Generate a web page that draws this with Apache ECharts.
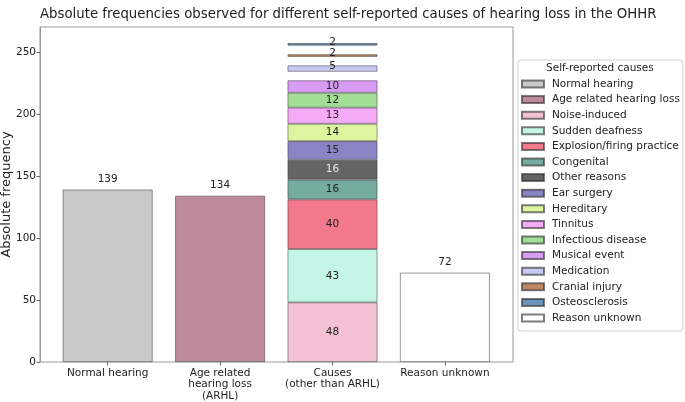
<!DOCTYPE html>
<html>
<head>
<meta charset="utf-8">
<script src="https://cdn.jsdelivr.net/npm/echarts@6/dist/echarts.min.js"></script>
<style>html,body{margin:0;padding:0;background:#fff}#c{width:685px;height:402px}</style>
</head>
<body>
<div id="c"></div>
<script>
const categories = ['Normal hearing', 'Age related\nhearing loss\n(ARHL)', 'Causes\n(other than ARHL)', 'Reason unknown'];
const normalHearing = 139;
const arhl = 134;
const reasonUnknown = 72;
const causeNames = ['Noise-induced', 'Sudden deafness', 'Explosion/firing practice', 'Congenital', 'Other reasons', 'Ear surgery', 'Hereditary', 'Tinnitus', 'Infectious disease', 'Musical event', 'Medication', 'Cranial injury', 'Osteosclerosis'];
const causeValues = [48, 43, 40, 16, 16, 15, 14, 13, 12, 10, 5, 2, 2];
const causeGapsBefore = [0, 0, 0, 0, 0, 0, 0, 0, 0, 0, 7, 7, 7];
const yTicks = [0, 50, 100, 150, 200, 250];

const colors = {
  'Normal hearing': '#c9c9c9',
  'Age related hearing loss': '#bd8a9c',
  'Noise-induced': '#f4c2d4',
  'Sudden deafness': '#c4f5e6',
  'Explosion/firing practice': '#f27a8c',
  'Congenital': '#76aba0',
  'Other reasons': '#656565',
  'Ear surgery': '#8a84c4',
  'Hereditary': '#dcf59e',
  'Tinnitus': '#f5abf5',
  'Infectious disease': '#a3de97',
  'Musical event': '#d99cf5',
  'Medication': '#c7caf2',
  'Cranial injury': '#c08965',
  'Osteosclerosis': '#6b94b9',
  'Reason unknown': '#ffffff'
};

const FONT = 'DejaVu Sans';
function vals(idx, v) {
  const d = [];
  for (let i = 0; i < categories.length; i++) d.push(i === idx ? v : '-');
  return d;
}
function barSeries(name, idx, v, labelPos) {
  return {
    name: name,
    type: 'bar',
    stack: 'all',
    xAxisIndex: 1, yAxisIndex: 1,
    barWidth: '80%',
    data: vals(idx, v),
    itemStyle: { color: colors[name], borderColor: 'rgba(40,40,40,0.6)', borderWidth: 0.8 },
    label: {
      show: true, position: labelPos, distance: 5,
      fontFamily: FONT, fontSize: 10.5, color: '#222'
    }
  };
}

const series = [];
series.push(barSeries('Normal hearing', 0, normalHearing, 'top'));
series.push(barSeries('Age related hearing loss', 1, arhl, 'top'));
causeNames.forEach((n, i) => {
  if (causeGapsBefore[i] > 0) {
    series.push({
      name: 'gap' + i, type: 'bar', stack: 'all', xAxisIndex: 1, yAxisIndex: 1, barWidth: '80%',
      data: vals(2, causeGapsBefore[i]),
      itemStyle: { color: 'rgba(0,0,0,0)', borderWidth: 0 },
      label: { show: false }, silent: true
    });
  }
  const s = barSeries(n, 2, causeValues[i], 'inside');
  if (n === 'Other reasons') s.label.color = '#e8e8e8';
  if (causeValues[i] <= 5) s.label.offset = [0, -2];
  series.push(s);
});
series.push(barSeries('Reason unknown', 3, reasonUnknown, 'top'));

const chart = echarts.init(document.getElementById('c'));
chart.setOption({
  animation: false,
  backgroundColor: '#fff',
  title: {
    text: 'Absolute frequencies observed for different self-reported causes of hearing loss in the OHHR',
    left: 35, top: 3,
    textStyle: { fontFamily: FONT, fontSize: 13.3, fontWeight: 'normal', color: '#222' }
  },
  grid: [
    { left: 40, right: 172, top: 27, bottom: 40, outerBoundsMode: 'none', containLabel: false, show: true, borderColor: '#999', borderWidth: 1, backgroundColor: 'transparent' },
    { left: 51.5, right: 183.9, top: 27, bottom: 40, outerBoundsMode: 'none', containLabel: false }
  ],
  xAxis: [
    { type: 'value', gridIndex: 0, min: 0, max: 1, show: false },
    {
      type: 'category', gridIndex: 1, data: categories,
      axisLine: { show: false },
      axisTick: { show: true, alignWithLabel: true, length: 3.5, lineStyle: { color: '#666' } },
      axisLabel: { interval: 0, margin: 5, fontFamily: FONT, fontSize: 10.5, color: '#222', lineHeight: 11.8 }
    }
  ],
  yAxis: [
    {
      type: 'value', gridIndex: 0, min: 0, max: 270,
      name: 'Absolute frequency', nameLocation: 'middle', nameGap: 27, nameMoveOverlap: false,
      nameTextStyle: { fontFamily: FONT, fontSize: 13, color: '#222' },
      splitLine: { show: false },
      axisLine: { show: true, onZero: false, lineStyle: { color: '#999' } },
      axisTick: { show: true, length: 3.5, customValues: yTicks, lineStyle: { color: '#666' } },
      axisLabel: { customValues: yTicks, margin: 4, fontFamily: FONT, fontSize: 10.5, color: '#222' }
    },
    { type: 'value', gridIndex: 1, min: 0, max: 270, show: false }
  ],
  legend: {
    data: ['Normal hearing', 'Age related hearing loss'].concat(causeNames, ['Reason unknown']),
    orient: 'vertical', left: 518, top: 60,
    padding: [17, 3, 6, 3],
    icon: 'rect',
    itemWidth: 22, itemHeight: 7, itemGap: 1.6,
    selectedMode: false,
    borderColor: '#d0d0d0', borderWidth: 1, borderRadius: 3,
    textStyle: { fontFamily: FONT, fontSize: 10.5, color: '#222', lineHeight: 14, padding: [0, 0, 0, 3] }
  },
  graphic: [{
    type: 'text', left: 546, top: 63,
    style: { text: 'Self-reported causes', font: '10.5px "DejaVu Sans"', fill: '#222' }
  }],
  series: series
});
</script>
</body>
</html>
